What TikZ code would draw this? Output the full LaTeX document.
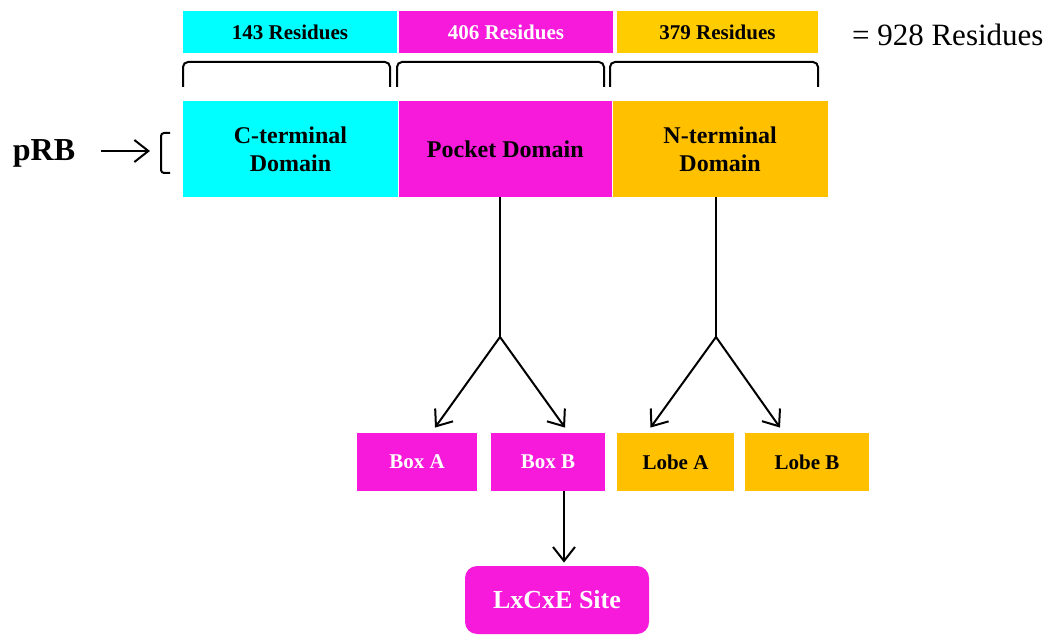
\documentclass[tikz,border=0pt]{standalone}
\usepackage{fontspec}
\setmainfont{Liberation Serif}
\usetikzlibrary{arrows.meta,positioning}
\definecolor{rbCyan}{RGB}{0,255,255}
\definecolor{rbMagenta}{RGB}{247,26,218}
\definecolor{rbGold}{RGB}{255,204,0}
\definecolor{rbAmber}{RGB}{255,192,0}

\begin{document}
\begin{tikzpicture}[x=0.5pt,y=-0.5pt,
      res/.style={minimum height=21pt,inner sep=0pt,font=\fontsize{10.5}{12}\selectfont\bfseries},
      dom/.style={minimum height=48pt,inner sep=0pt,align=center,font=\fontsize{12}{14}\selectfont\bfseries},
      sub/.style={minimum height=29pt,inner sep=0pt,font=\fontsize{10.5}{12}\selectfont\bfseries},
      brk/.style={line width=1pt,rounded corners=2.5pt},
      arr/.style={line width=1pt,-{Straight Barb[length=7pt,width=11pt,line width=1pt]}}]
    \useasboundingbox (0,0) rectangle (1059,635);
    % residue counts and brackets
    \foreach \x/\w/\fillc/\textc/\cnt/\name in {
        290/107/rbCyan/black/143/rc,
        506/107/rbMagenta/white/406/rp,
        717.5/100.5/rbGold/black/379/rn} {
      \node[res,fill=\fillc,text=\textc,minimum width=\w pt] (\name) at (\x,32) {\cnt{} Residues};
    }
    \foreach \a/\b in {183/390,397/604,610/818}
      \draw[brk] (\a,87) -- (\a,62) -- (\b,62) -- (\b,87);
    \node[anchor=west,font=\fontsize{15.5}{18}\selectfont] (total) at (845,35) {= 928 Residues};
    % domains
    \node[dom,fill=rbCyan,minimum width=107.5pt] (cterm) at (290.5,149) {C-terminal\\Domain};
    \node[dom,fill=rbMagenta,minimum width=106.5pt,right=0pt of cterm] (pocket) {Pocket Domain};
    \node[dom,fill=rbAmber,minimum width=107.5pt,right=0pt of pocket] (nterm) {N-terminal\\Domain};
    % pRB label
    \node[font=\fontsize{16}{18}\selectfont\bfseries] (prb) at (44,153) {pRB};
    \coordinate (prbTail) at (101,151);
    \coordinate (prbTip) at (150,151);
    \draw[arr] (prbTail) -- (prbTip);
    \draw[brk,rounded corners=1.5pt] (170,133) -- (161,133) -- (161,173) -- (170,173);
    % sub-domains
    \node[sub,fill=rbMagenta,text=white,minimum width=60pt] (boxA) at (417,462) {Box A};
    \node[sub,fill=rbMagenta,text=white,minimum width=57pt] (boxB) at (548,462) {Box B};
    \node[sub,fill=rbAmber,minimum width=58.5pt] (lobeA) at (675.5,462) {Lobe A};
    \node[sub,fill=rbAmber,minimum width=62pt] (lobeB) at (807,462) {Lobe B};
    \node[fill=rbMagenta,text=white,rounded corners=6pt,minimum width=92pt,minimum height=34pt,
      inner sep=0pt,font=\fontsize{13}{15}\selectfont\bfseries] (site) at (557,600) {LxCxE Site};
    % connectors
    \coordinate (pSplit) at (500,337);
    \coordinate (nSplit) at (716,337);
    \draw[line width=1pt] (pocket.south -| pSplit) -- (pSplit);
    \draw[line width=1pt] (nterm.south -| nSplit) -- (nSplit);
    \draw[arr] (pSplit) -- ([xshift=9pt,yshift=2.5pt]boxA.north);
    \draw[arr] (pSplit) -- ([xshift=8.5pt,yshift=2.5pt]boxB.north);
    \draw[arr] (nSplit) -- ([xshift=-12.5pt,yshift=2.5pt]lobeA.north);
    \draw[arr] (nSplit) -- ([xshift=-13.5pt,yshift=2.5pt]lobeB.north);
    \draw[arr] ([xshift=8pt]boxB.south) -- ([xshift=3.5pt,yshift=1.5pt]site.north);
  \end{tikzpicture}
\end{document}
